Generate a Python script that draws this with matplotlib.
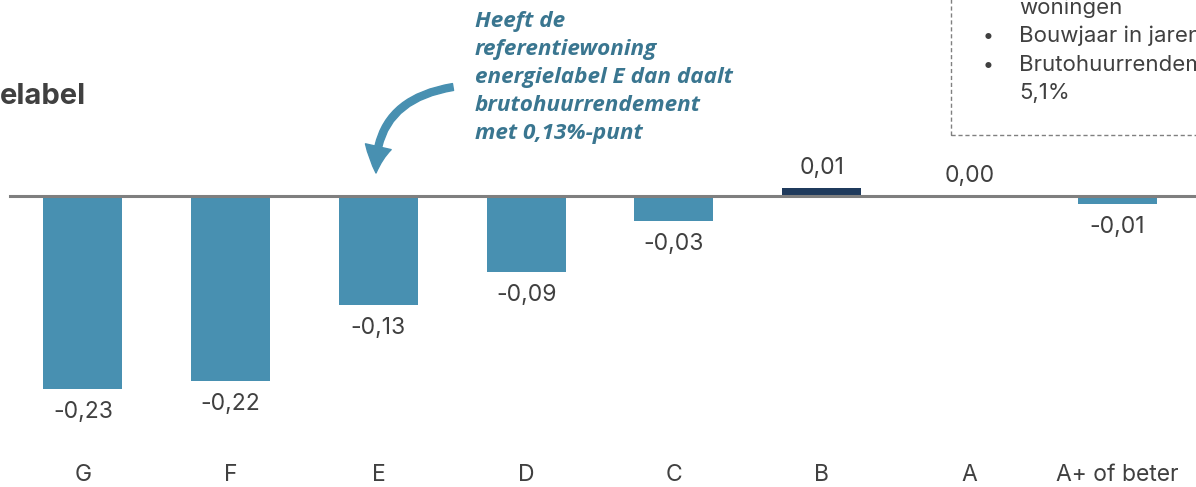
import matplotlib
matplotlib.use("Agg")
import matplotlib.pyplot as plt
from matplotlib.patches import Rectangle, FancyArrowPatch
from matplotlib.path import Path
from matplotlib.lines import Line2D
import matplotlib.transforms as mtransforms

# ---- data ----
categories = ["G", "F", "E", "D", "C", "B", "A", "A+ of beter"]
values = [-0.23, -0.22, -0.13, -0.09, -0.03, 0.01, 0.00, -0.01]
value_labels = ["-0,23", "-0,22", "-0,13", "-0,09", "-0,03", "0,01", "0,00", "-0,01"]
highlight = "B"

title_fragment = "elabel"
annotation_lines = ["Heeft de", "referentiewoning", "energielabel E dan daalt",
                    "brutohuurrendement", "met 0,13%-punt"]
box_lines = [("", "woningen"), ("•", "Bouwjaar in jaren"),
             ("•", "Brutohuurrendement"), ("", "5,1%")]

# ---- style ----
FONT = "Inter"
ANNOT_FONT = "Open Sans"
BAR = "#4890B1"
DARK = "#1F3A5C"
TEXT = "#404040"
ANNOT = "#3A7690"
W, H = 1196, 487

plt.rcParams["font.family"] = [FONT, "DejaVu Sans"]
fig = plt.figure(figsize=(W / 100, H / 100), dpi=100)

def fx(px):
    return px / W

def fy(py):
    return 1 - py / H

ymin, ymax = -0.28, 0.055
zero_px, scale = 196, 840
top_px = zero_px - ymax * scale
bot_px = zero_px - ymin * scale
ax = fig.add_axes([fx(9), fy(bot_px), fx(1191) - fx(9), (bot_px - top_px) / H])
ax.set_xlim(-0.5, len(categories) - 0.5)
ax.set_ylim(ymin, ymax)
ax.axis("off")

x = list(range(len(categories)))
colors = [DARK if c == highlight else BAR for c in categories]
ax.bar(x, values, width=0.535, color=colors, zorder=2)

# zero line
fig.add_artist(Line2D([fx(10), fx(1196)], [fy(zero_px), fy(zero_px)],
                      color="#7F7F7F", lw=2.2, zorder=3))

# value labels
for xi, v, lab in zip(x, values, value_labels):
    if v < 0:
        ax.annotate(lab, (xi, v), xytext=(0, -29), textcoords="offset pixels",
                    ha="center", va="baseline", fontsize=16.5, color=TEXT)
    else:
        ax.annotate(lab, (xi, v), xytext=(0, 13.5), textcoords="offset pixels",
                    ha="center", va="baseline", fontsize=16.5, color=TEXT)

# category labels
trans = mtransforms.blended_transform_factory(ax.transData, fig.transFigure)
for xi, c in zip(x, categories):
    ax.text(xi, fy(481), c, transform=trans, ha="center", va="baseline",
            fontsize=16.5, color=TEXT)

# title fragment (cropped in the reference)
fig.text(fx(0), fy(104), title_fragment, ha="left", va="baseline",
         fontsize=21, fontweight="bold", color=TEXT)

# annotation
for i, line in enumerate(annotation_lines):
    fig.text(fx(475), fy(27 + 28 * i), line, ha="left", va="baseline",
             fontsize=16.2, fontweight="bold", fontstyle="italic", color=ANNOT,
             family=[ANNOT_FONT, "DejaVu Sans"])

# curved arrow
verts = [(fx(453), fy(87)), (fx(374), fy(100)), (fx(376), fy(173))]
codes = [Path.MOVETO, Path.CURVE3, Path.CURVE3]
arrow = FancyArrowPatch(path=Path(verts, codes),
                        arrowstyle="simple,head_width=19,head_length=19,tail_width=5",
                        color=BAR, transform=fig.transFigure, mutation_scale=1)
fig.add_artist(arrow)

# dashed info box (cropped at top-right in the reference)
box = Rectangle((fx(951), fy(135)), fx(400), 200 / H, transform=fig.transFigure,
                fill=False, edgecolor="#808080", lw=1.0, linestyle=(0, (3, 2)))
fig.add_artist(box)
for i, (b, t) in enumerate(box_lines):
    yb = fy(14 + 28.4 * i)
    if b:
        fig.text(fx(983), yb, b, ha="left", va="baseline", fontsize=14, color=TEXT)
    fig.text(fx(1019), yb, t, ha="left", va="baseline", fontsize=16, color=TEXT)

fig.savefig("out.png", dpi=100)
